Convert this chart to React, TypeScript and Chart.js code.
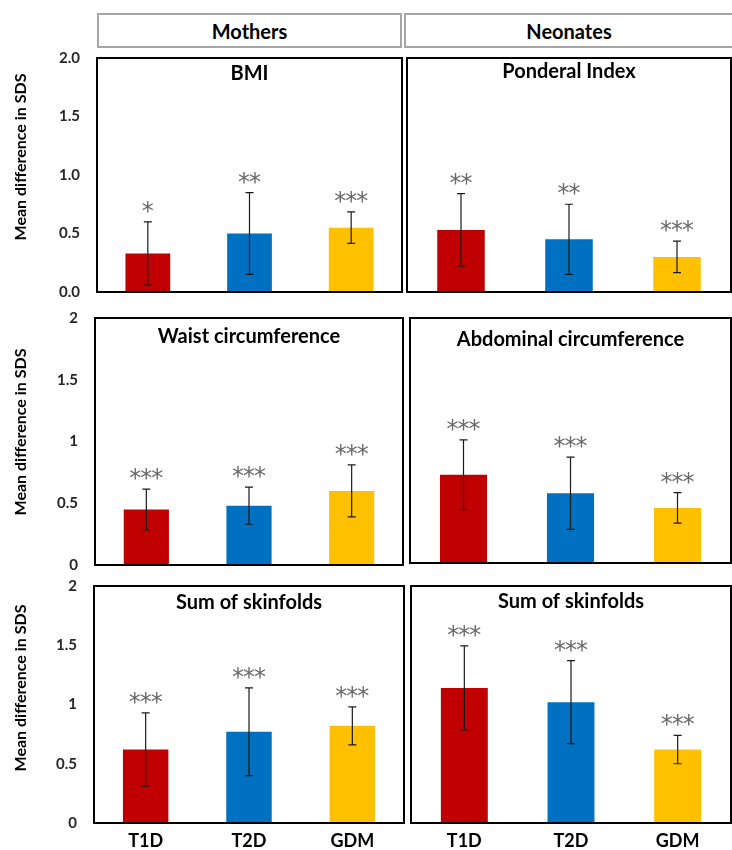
import React, { useEffect, useRef } from "react";
import { Chart, registerables } from "chart.js";

Chart.register(...registerables);

// ---------- data ----------
const categories = ["T1D", "T2D", "GDM"];
const barColors = ["#C00000", "#0070C0", "#FFC000"];

const yTicksTopRow = ["0.0", "0.5", "1.0", "1.5", "2.0"];
const yTicksOtherRows = ["0", "0.5", "1", "1.5", "2"];

const groupTitles = ["Mothers", "Neonates"];
const yAxisTitle = "Mean difference in SDS";

const bmiMean = [0.33, 0.5, 0.55];
const bmiErr = [0.27, 0.35, 0.135];
const bmiSig = ["*", "**", "***"];

const ponderalMean = [0.53, 0.45, 0.3];
const ponderalErr = [0.31, 0.3, 0.135];
const ponderalSig = ["**", "**", "***"];

const waistMean = [0.45, 0.48, 0.6];
const waistErr = [0.165, 0.15, 0.21];
const waistSig = ["***", "***", "***"];

const abdominalMean = [0.72, 0.57, 0.45];
const abdominalErr = [0.285, 0.295, 0.125];
const abdominalSig = ["***", "***", "***"];

const skinMothersMean = [0.62, 0.77, 0.82];
const skinMothersErr = [0.31, 0.37, 0.16];
const skinMothersSig = ["***", "***", "***"];

const skinNeonatesMean = [1.14, 1.02, 0.62];
const skinNeonatesErr = [0.355, 0.35, 0.12];
const skinNeonatesSig = ["***", "***", "***"];

// ---------- layout / style ----------
const FONT = "Lato, 'Open Sans', 'Liberation Sans', sans-serif";
const PAGE_W = 732;

type Box = { l: number; t: number; r: number; b: number };
type Panel = {
  title: string;
  mean: number[];
  err: number[];
  sig: string[];
  ticks: string[];
  left: boolean;
  showX: boolean;
  box: Box;
  titleOffset: number;
  yTitleCenter: number;
};

const panels: Panel[] = [
  { title: "BMI", mean: bmiMean, err: bmiErr, sig: bmiSig, ticks: yTicksTopRow, left: true, showX: false,
    box: { l: 97, t: 58, r: 402, b: 292 }, titleOffset: 16, yTitleCenter: 157 },
  { title: "Ponderal Index", mean: ponderalMean, err: ponderalErr, sig: ponderalSig, ticks: yTicksTopRow, left: false, showX: false,
    box: { l: 407, t: 58, r: 731, b: 292 }, titleOffset: 14, yTitleCenter: 0 },
  { title: "Waist circumference", mean: waistMean, err: waistErr, sig: waistSig, ticks: yTicksOtherRows, left: true, showX: false,
    box: { l: 95, t: 318, r: 403, b: 565 }, titleOffset: 19, yTitleCenter: 432 },
  { title: "Abdominal circumference", mean: abdominalMean, err: abdominalErr, sig: abdominalSig, ticks: yTicksOtherRows, left: false, showX: false,
    box: { l: 410, t: 318, r: 731, b: 563 }, titleOffset: 22, yTitleCenter: 0 },
  { title: "Sum of skinfolds", mean: skinMothersMean, err: skinMothersErr, sig: skinMothersSig, ticks: yTicksOtherRows, left: true, showX: true,
    box: { l: 94, t: 586, r: 404, b: 823 }, titleOffset: 17, yTitleCenter: 688 },
  { title: "Sum of skinfolds", mean: skinNeonatesMean, err: skinNeonatesErr, sig: skinNeonatesSig, ticks: yTicksOtherRows, left: false, showX: true,
    box: { l: 411, t: 586, r: 731, b: 823 }, titleOffset: 16, yTitleCenter: 0 },
];

const PAD_TOP = 12;
const PAD_BOTTOM = 12;
const XAXIS_H = 27;

function PanelChart({ p }: { p: Panel }) {
  const ref = useRef<HTMLCanvasElement | null>(null);
  const canvasLeft = p.left ? 0 : p.box.l - 4;
  const canvasTop = p.box.t - PAD_TOP;
  const width = p.left ? p.box.r + 4 : PAGE_W - canvasLeft;
  const height = p.box.b - p.box.t + PAD_TOP + (p.showX ? XAXIS_H : PAD_BOTTOM);

  useEffect(() => {
    if (!ref.current) return;
    const overlay = {
      id: "overlay",
      afterDatasetsDraw(chart: any) {
        const ctx = chart.ctx as CanvasRenderingContext2D;
        const xs = chart.scales.x;
        const ys = chart.scales.y;
        const area = chart.chartArea;
        ctx.save();
        // error bars
        ctx.strokeStyle = "#1a1a1a";
        ctx.lineWidth = 1.2;
        p.mean.forEach((m, i) => {
          const x = xs.getPixelForValue(i);
          const yTop = ys.getPixelForValue(m + p.err[i]);
          const yBot = ys.getPixelForValue(m - p.err[i]);
          ctx.beginPath();
          ctx.moveTo(x, yTop);
          ctx.lineTo(x, yBot);
          ctx.moveTo(x - 4, yTop);
          ctx.lineTo(x + 4, yTop);
          ctx.moveTo(x - 4, yBot);
          ctx.lineTo(x + 4, yBot);
          ctx.stroke();
        });
        // significance stars
        ctx.fillStyle = "#6a6a6a";
        ctx.font = "24px 'DejaVu Sans'";
        ctx.textAlign = "center";
        ctx.textBaseline = "alphabetic";
        const mt = ctx.measureText("*");
        const asc = mt.actualBoundingBoxAscent;
        const desc = mt.actualBoundingBoxDescent;
        p.sig.forEach((s, i) => {
          const x = xs.getPixelForValue(i);
          const cy = ys.getPixelForValue(p.mean[i] + p.err[i]) - 15;
          const n = s.length;
          const step = 11;
          for (let k = 0; k < n; k++) {
            const sx = x + (k - (n - 1) / 2) * step;
            ctx.fillText("*", sx, cy - (desc - asc) / 2);
          }
        });
        // frame
        ctx.strokeStyle = "#000";
        ctx.lineWidth = 2;
        ctx.strokeRect(area.left, area.top, area.right - area.left, area.bottom - area.top);
        // panel title
        ctx.fillStyle = "#000";
        ctx.font = `bold 20px ${FONT}`;
        ctx.textAlign = "center";
        ctx.textBaseline = "middle";
        ctx.fillText(p.title, (area.left + area.right) / 2, area.top + p.titleOffset);
        // y axis title
        if (p.left) {
          ctx.save();
          ctx.translate(21, p.yTitleCenter - canvasTop);
          ctx.rotate(-Math.PI / 2);
          ctx.font = `bold 16px ${FONT}`;
          ctx.fillText(yAxisTitle, 0, 0);
          ctx.restore();
        }
        ctx.restore();
      },
    };

    const chart = new Chart(ref.current, {
      type: "bar",
      data: {
        labels: categories,
        datasets: [
          {
            data: p.mean,
            backgroundColor: barColors,
            borderWidth: 0,
            barPercentage: 0.44,
            categoryPercentage: 1,
          },
        ],
      },
      options: {
        animation: false,
        responsive: false,
        maintainAspectRatio: false,
        events: [],
        layout: {
          padding: {
            top: PAD_TOP,
            bottom: p.showX ? 0 : PAD_BOTTOM,
            left: p.left ? 0 : 4,
            right: p.left ? 4 : 1,
          },
        },
        plugins: {
          legend: { display: false },
          tooltip: { enabled: false },
          title: { display: false },
        },
        scales: {
          x: {
            display: p.showX,
            grid: { display: false, drawTicks: false },
            border: { display: false },
            ticks: {
              padding: 7,
              color: "#000",
              font: { family: FONT, size: 18, weight: "bold" },
            },
            afterFit: (scale: any) => {
              if (p.showX) scale.height = XAXIS_H;
            },
          },
          y: {
            display: p.left,
            min: 0,
            max: 2,
            grid: { display: false, drawTicks: true, tickLength: 14 },
            border: { display: false },
            ticks: {
              stepSize: 0.5,
              padding: 3,
              color: "#262626",
              font: { family: FONT, size: 15, weight: "bold" },
              callback: (_v: any, i: number) => p.ticks[i],
            },
            afterFit: (scale: any) => {
              if (p.left) scale.width = p.box.l;
            },
          },
        },
      },
      plugins: [overlay],
    } as any);
    return () => chart.destroy();
  }, []);

  return (
    <canvas
      ref={ref}
      width={width}
      height={height}
      style={{ position: "absolute", left: canvasLeft, top: canvasTop, width, height }}
    />
  );
}

const headerStyle = (left: number, width: number): React.CSSProperties => ({
  position: "absolute",
  left,
  top: 13,
  width,
  height: 35,
  boxSizing: "border-box",
  border: "2px solid #a6a6a6",
  display: "flex",
  alignItems: "center",
  justifyContent: "center",
  fontFamily: FONT,
  fontWeight: "bold",
  fontSize: 20,
  color: "#000",
});

export default function App() {
  return (
    <div
      style={{
        position: "absolute",
        left: 0,
        top: 0,
        width: PAGE_W,
        height: 850,
        background: "#fff",
        overflow: "hidden",
      }}
    >
      <div style={headerStyle(97, 305)}>{groupTitles[0]}</div>
      <div style={headerStyle(404, 330)}>{groupTitles[1]}</div>
      {panels.map((p, i) => (
        <PanelChart key={i} p={p} />
      ))}
    </div>
  );
}
